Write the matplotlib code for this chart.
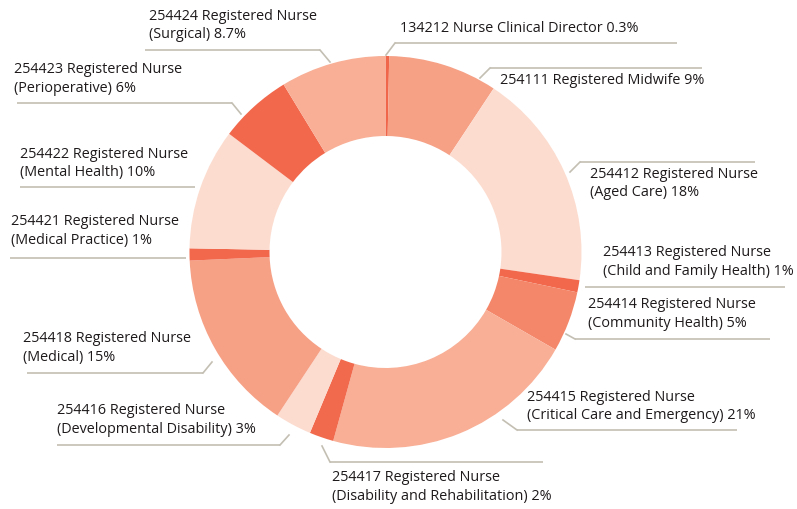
import numpy as np
import matplotlib.pyplot as plt

# data (clockwise from 12 o'clock)
codes = ["134212", "254111", "254412", "254413", "254414", "254415", "254417",
         "254416", "254418", "254421", "254422", "254423", "254424"]
names = ["Nurse Clinical Director", "Registered Midwife",
         "Registered Nurse\n(Aged Care)", "Registered Nurse\n(Child and Family Health)",
         "Registered Nurse\n(Community Health)", "Registered Nurse\n(Critical Care and Emergency)",
         "Registered Nurse\n(Disability and Rehabilitation)", "Registered Nurse\n(Developmental Disability)",
         "Registered Nurse\n(Medical)", "Registered Nurse\n(Medical Practice)",
         "Registered Nurse\n(Mental Health)", "Registered Nurse\n(Perioperative)",
         "Registered Nurse\n(Surgical)"]
shares = [0.3, 9, 18, 1, 5, 21, 2, 3, 15, 1, 10, 6, 8.7]
share_txt = ["0.3%", "9%", "18%", "1%", "5%", "21%", "2%", "3%", "15%", "1%", "10%", "6%", "8.7%"]

colors = ["#f0664a", "#f6a086", "#fcdccf", "#f2684c", "#f4876a", "#f8af96", "#f26a4d",
          "#fcdccf", "#f6a086", "#f2684c", "#fcdccf", "#f2684c", "#f8af96"]

# label layout in pixels: text x, text y (centre), line y, line x0, line x1, anchor point (or None)
layout = [
    (400, 28, 43, 395, 677, (386, 55)),
    (500, 80, 68, 490, 702, (480, 78)),
    (590, 183.5, 162, 580, 755, (570, 172)),
    (603, 262, 287, 585, 785, None),
    (588, 314, 339, 575, 770, (566, 334)),
    (527, 406.5, 430, 517, 737, (503, 420)),
    (332, 487, 462, 330, 543, (322, 446)),
    (57, 420, 445, 57, 280, (289, 435)),
    (23, 348, 373, 27, 203, (212, 362)),
    (11, 231, 258, 10, 186, None),
    (20, 163.5, 187, 20, 195, None),
    (14, 79, 103, 17, 232, (241, 114)),
    (149, 25.5, 50, 145, 320, (330, 62)),
]

fig = plt.figure(figsize=(7.97, 5.09), dpi=100)
ax = fig.add_axes([0, 0, 1, 1])

# donut (y axis inverted later, so counterclock in data = clockwise on screen)
ax.pie(shares, colors=colors, startangle=-90, counterclock=True,
       center=(385.5, 252), radius=196,
       wedgeprops=dict(width=80, linewidth=0))

ax.set_xlim(0, 797)
ax.set_ylim(509, 0)
ax.set_aspect("equal")
ax.axis("off")

line_col = "#c4bfb3"
for i in range(len(shares)):
    tx, ty, ly, x0, x1, anchor = layout[i]
    txt = codes[i] + " " + names[i] + " " + share_txt[i]
    ax.text(tx, ty, txt, fontsize=10.4, family="Open Sans", color="#1e1a1b",
            va="center", ha="left", linespacing=1.32)
    ax.plot([x0, x1], [ly, ly], color=line_col, lw=1.2, solid_capstyle="butt")
    if anchor is not None:
        # diagonal from the ring to the nearest end of the line
        ex = x0 if abs(anchor[0] - x0) < abs(anchor[0] - x1) else x1
        ax.plot([anchor[0], ex], [anchor[1], ly], color=line_col, lw=1.2)

fig.savefig("out.png", dpi=100)
